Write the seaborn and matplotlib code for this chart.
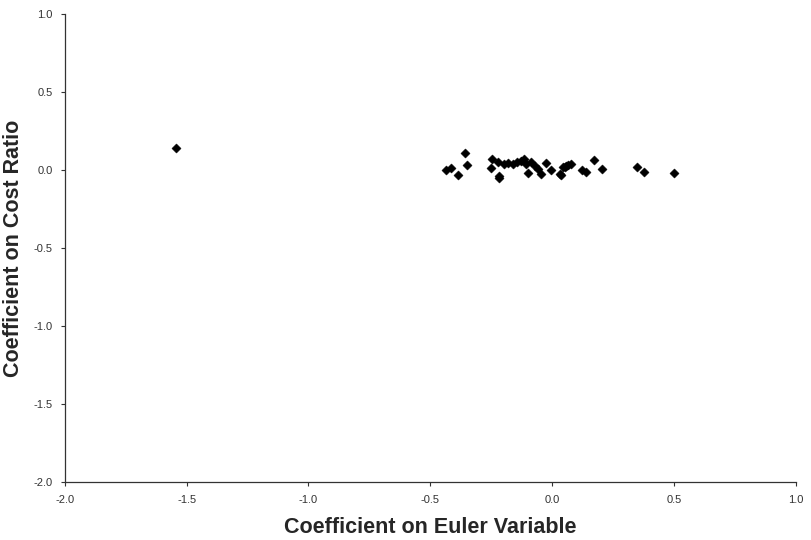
import matplotlib
matplotlib.use('Agg')
import matplotlib.pyplot as plt
import seaborn as sns
import pandas as pd

# Estimated coefficients
euler_coef = [-1.545,
              -0.437, -0.413, -0.387, -0.356, -0.348,
              -0.247, -0.249, -0.219, -0.222, -0.219,
              -0.197, -0.180, -0.160, -0.142, -0.126, -0.115, -0.105,
              -0.099, -0.085, -0.071, -0.058, -0.044, -0.023, -0.006,
              0.031, 0.045, 0.059, 0.079, 0.038, 0.052, 0.065,
              0.124, 0.138, 0.172, 0.205, 0.348, 0.377, 0.500]
cost_coef = [0.14,
             0.00, 0.015, -0.03, 0.11, 0.03,
             0.07, 0.015, -0.05, 0.05, -0.036,
             0.038, 0.045, 0.038, 0.05, 0.06, 0.07, 0.038,
             -0.02, 0.05, 0.028, 0.006, -0.026, 0.045, 0.002,
             -0.026, 0.017, 0.028, 0.038, -0.03, 0.02, 0.03,
             0.0, -0.01, 0.065, 0.01, 0.02, -0.01, -0.02]

x_ticks = [-2.0, -1.5, -1.0, -0.5, 0.0, 0.5, 1.0]
y_ticks = [1.0, 0.5, 0.0, -0.5, -1.0, -1.5, -2.0]

df = pd.DataFrame({'euler': euler_coef, 'cost': cost_coef})

sns.set_style('ticks')
plt.rcParams['font.family'] = ['Liberation Sans', 'DejaVu Sans']

fig = plt.figure(figsize=(8.11, 5.4), dpi=100)
ax = fig.add_axes([0.080, 0.107, 0.901, 0.867])

sns.scatterplot(data=df, x='euler', y='cost', marker='D', color='black',
                s=22, edgecolor='black', linewidth=0.3, ax=ax)

ax.set_xlim(-2.0, 1.0)
ax.set_ylim(-2.0, 1.0)
ax.set_xticks(x_ticks)
ax.set_yticks(y_ticks)
ax.set_xticklabels([f'{t:.1f}' for t in x_ticks], fontsize=8)
ax.set_yticklabels([f'{t:.1f}' for t in y_ticks], fontsize=8)
ax.tick_params(direction='out', length=3, width=0.8, colors='#333333', pad=6)
for side in ['left', 'bottom']:
    ax.spines[side].set_color('#333333')
    ax.spines[side].set_linewidth(0.9)
sns.despine(ax=ax)

ax.set_xlabel('Coefficient on Euler Variable', fontsize=15.5, fontweight='bold', labelpad=9)
ax.set_ylabel('Coefficient on Cost Ratio', fontsize=15.5, fontweight='bold', labelpad=7)

fig.savefig('out.png', dpi=100)
